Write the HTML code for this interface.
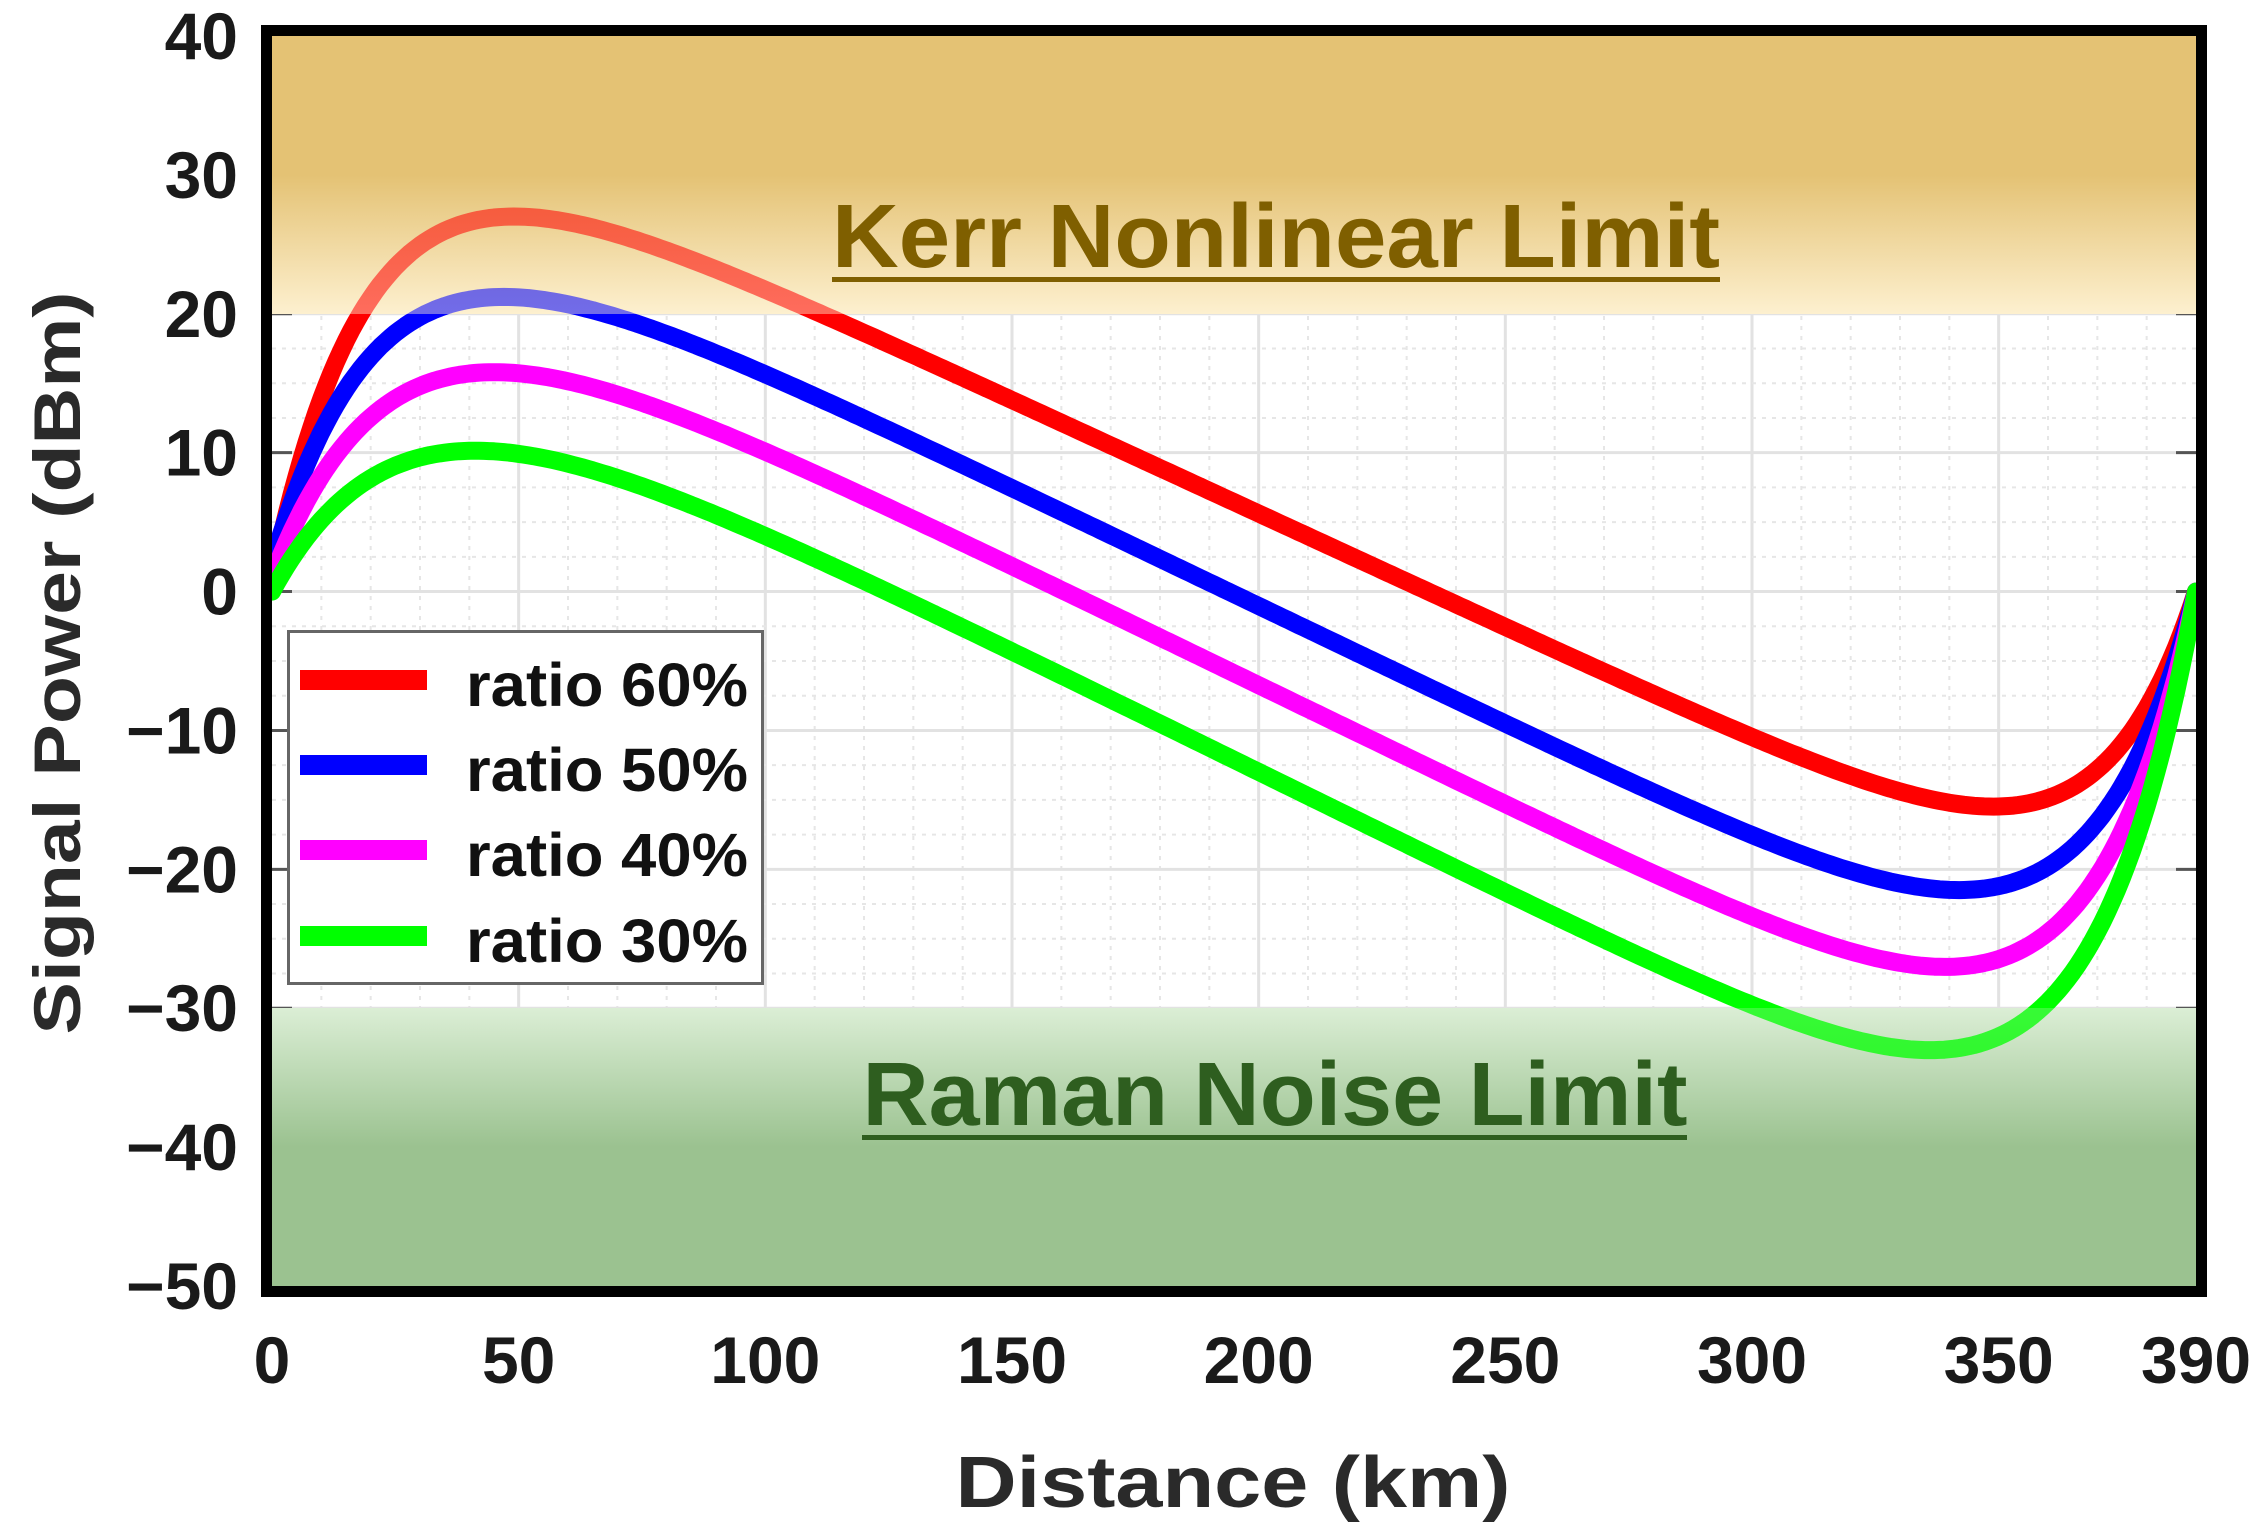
<!DOCTYPE html>
<html><head><meta charset="utf-8"><style>
html,body{margin:0;padding:0;background:#fff;}
svg{display:block;}
text{font-family:"Liberation Sans",sans-serif;font-weight:bold;}
</style></head><body>
<svg id="s" width="2261" height="1539" viewBox="0 0 2261 1539" xmlns="http://www.w3.org/2000/svg">
<defs>
<linearGradient id="kerr" x1="0" y1="36" x2="0" y2="314" gradientUnits="userSpaceOnUse">
<stop offset="0" stop-color="#e4c274"/>
<stop offset="0.5" stop-color="#e4c274"/>
<stop offset="1" stop-color="#fdf0cf"/>
</linearGradient>
<linearGradient id="raman" x1="0" y1="1008" x2="0" y2="1286" gradientUnits="userSpaceOnUse">
<stop offset="0" stop-color="#dbeed5"/>
<stop offset="0.5" stop-color="#9bc290"/>
<stop offset="1" stop-color="#9bc290"/>
</linearGradient>
<clipPath id="pc"><rect x="272" y="36" width="1924" height="1250"/></clipPath>
</defs>
<rect x="272" y="36" width="1924" height="1250" fill="#fff"/>
<g id="grid"></g>
<rect x="272" y="36" width="1924" height="278" fill="url(#kerr)"/>
<rect x="272" y="1008" width="1924" height="278" fill="url(#raman)"/>
<g id="curves" clip-path="url(#pc)"></g>
<rect x="272" y="36" width="1924" height="278" fill="url(#kerr)" opacity="0.45"/>
<rect x="272" y="1008" width="1924" height="278" fill="url(#raman)" opacity="0.25"/>
<text x="1276" y="267" font-size="90" fill="#7f5f00" text-anchor="middle" textLength="888" lengthAdjust="spacingAndGlyphs">Kerr Nonlinear Limit</text>
<rect x="832" y="277" width="888" height="5" fill="#7f5f00"/>
<text x="1275" y="1125" font-size="90" fill="#2e5e1f" text-anchor="middle" textLength="825" lengthAdjust="spacingAndGlyphs">Raman Noise Limit</text>
<rect x="862" y="1135" width="825" height="5" fill="#2e5e1f"/>
<rect x="266.5" y="30.5" width="1935" height="1261" fill="none" stroke="#000" stroke-width="11"/>
<g id="legend">
<rect x="288.5" y="631.5" width="474" height="352" fill="#fff" stroke="#666" stroke-width="3"/>
<rect x="300" y="670" width="127" height="20" fill="#ff0000"/>
<rect x="300" y="755" width="127" height="20" fill="#0000ff"/>
<rect x="300" y="840" width="127" height="20" fill="#ff00ff"/>
<rect x="300" y="926" width="127" height="20" fill="#00ff00"/>
<text x="466" y="706" font-size="61" fill="#111" textLength="282" lengthAdjust="spacingAndGlyphs">ratio 60%</text>
<text x="466" y="791" font-size="61" fill="#111" textLength="282" lengthAdjust="spacingAndGlyphs">ratio 50%</text>
<text x="466" y="876" font-size="61" fill="#111" textLength="282" lengthAdjust="spacingAndGlyphs">ratio 40%</text>
<text x="466" y="962" font-size="61" fill="#111" textLength="282" lengthAdjust="spacingAndGlyphs">ratio 30%</text>
</g>
<g id="ticks" fill="#1a1a1a" font-size="66"></g>
<text x="1233" y="1507" font-size="72" fill="#2a2a2a" text-anchor="middle" textLength="555" lengthAdjust="spacingAndGlyphs">Distance (km)</text>
<text transform="translate(80,663) rotate(-90)" font-size="66" fill="#2a2a2a" text-anchor="middle" textLength="743" lengthAdjust="spacingAndGlyphs">Signal Power (dBm)</text>
</svg>
<script>
var NS="http://www.w3.org/2000/svg";
function X(k){return 272+k*1924/390;}
function Y(d){return 36+(40-d)*1250/90;}
function el(t,a,p){var e=document.createElementNS(NS,t);for(var k in a)e.setAttribute(k,a[k]);p.appendChild(e);return e;}
var g=document.getElementById("grid");
for(var k=10;k<390;k+=10){var maj=k%50==0;el("line",{x1:X(k),x2:X(k),y1:36,y2:1286,stroke:maj?"#e2e2e2":"#e6e6e6","stroke-width":maj?3:2,"stroke-dasharray":maj?"":"4 6"},g);}
for(var d=-47.5;d<40;d+=2.5){var maj=Math.abs(d%10)<0.01;el("line",{x1:272,x2:2196,y1:Y(d),y2:Y(d),stroke:maj?"#e2e2e2":"#e6e6e6","stroke-width":maj?3:2,"stroke-dasharray":maj?"":"4 6"},g);}
var t=document.getElementById("ticks");
[0,50,100,150,200,250,300,350,390].forEach(function(k){var e=el("text",{x:X(k),y:1383,"text-anchor":"middle"},t);e.textContent=k;});
for(var d=40;d>=-50;d-=10){var e=el("text",{x:238,y:Y(d)+23,"text-anchor":"end"},t);e.textContent=(d<0?"\u2212":"")+Math.abs(d);
 el("line",{x1:272,x2:292,y1:Y(d),y2:Y(d),stroke:"#555","stroke-width":3},g);el("line",{x1:2176,x2:2196,y1:Y(d),y2:Y(d),stroke:"#555","stroke-width":3},g);}
// [color, P0, zp, Pp, V100, zm, Pm]
var series=[
["#ff0000",1,50,27,22,349,-15.5],
["#0000ff",2,45,21.2,16,342,-21.5],
["#ff00ff",1,40,15.7,10.5,339,-27],
["#00ff00",0,35,10,4.5,336,-33]
];
var cg=document.getElementById("curves");
series.forEach(function(p){
 var P0=p[1],zp=p[2],Pp=p[3],V=p[4],zm=p[5],Pm=p[6];
 var best=null,be=1e9;
 for(var s=0.1;s<0.3;s+=0.0002){
  var L=function(z){return V-s*(z-100);};
  var b=(Pm-L(zm))/s; if(b<=1)continue;
  var D=-L(390); var r=Math.abs(D/b*Math.exp((zm-390)/b)-s);
  if(r<be){be=r;best=[s,b,D];}
 }
 var s=best[0],b=best[1],D=best[2];
 var m0=V+100*s, C=m0-P0;
 var a=-zp/Math.log((m0-s*zp-Pp)/C);
 var d="";
 for(var z=0;z<=390;z+=1){
  var P=m0-s*z-C*Math.exp(-z/a)+D*Math.exp((z-390)/b);
  if(z==390)P=0;
  d+=(z?" L":"M")+X(z).toFixed(1)+","+Y(P).toFixed(1);
 }
 el("path",{d:d,fill:"none",stroke:p[0],"stroke-width":18,"stroke-linecap":"round","stroke-linejoin":"round"},cg);
});
</script>
</body></html>
